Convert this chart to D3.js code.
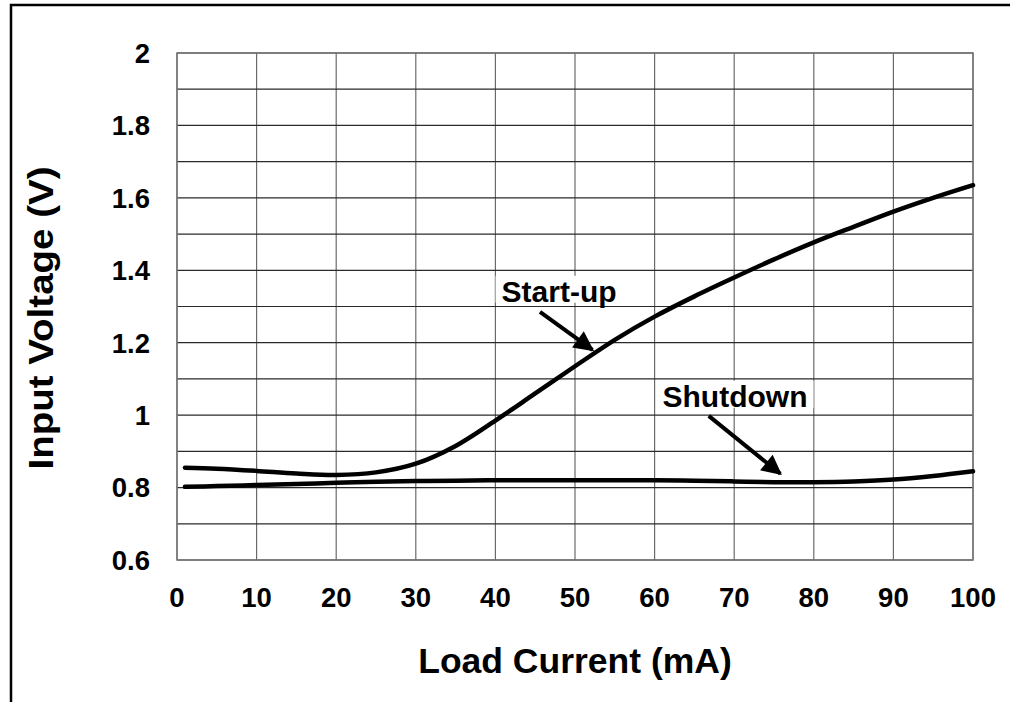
<!DOCTYPE html>
<html>
<head>
<meta charset="utf-8">
<script src="https://cdn.jsdelivr.net/npm/d3@7"></script>
<style>
  body { margin: 0; background: #fff; }
  text { font-family: "Liberation Sans", Arial, sans-serif; font-weight: bold; fill: #000; }
</style>
</head>
<body>
<svg width="1010" height="702"></svg>
<script>
// data
const loadCurrent = [1, 5, 10, 15, 20, 25, 30, 35, 40, 45, 50, 55, 60, 65, 70, 75, 80, 85, 90, 95, 100];
const startUp = [0.855, 0.852, 0.846, 0.839, 0.835, 0.842, 0.866, 0.915, 0.985, 1.06, 1.135, 1.208, 1.272, 1.328, 1.38, 1.43, 1.477, 1.52, 1.562, 1.6, 1.635];
const shutdown = [0.802, 0.804, 0.807, 0.81, 0.813, 0.816, 0.818, 0.819, 0.82, 0.82, 0.82, 0.82, 0.82, 0.819, 0.817, 0.815, 0.815, 0.817, 0.822, 0.832, 0.845];
const xTicks = [0, 10, 20, 30, 40, 50, 60, 70, 80, 90, 100];
const yTicks = [0.6, 0.8, 1, 1.2, 1.4, 1.6, 1.8, 2];
const yGrid = d3.range(0.6, 2.001, 0.1);

// annotation labels and arrows, in data units
const labels = [
  { text: 'Start-up', x: 48.0, y: 1.313, arrow: [[45.6, 1.285], [52.2, 1.18]] },
  { text: 'Shutdown', x: 70.1, y: 1.023, arrow: [[66.8, 0.998], [75.8, 0.838]] }
];

const svg = d3.select('svg');
const margin = { left: 177, top: 53, right: 37, bottom: 142 };
const width = +svg.attr('width');
const height = +svg.attr('height');

// outer frame
svg.append('rect')
  .attr('x', 11).attr('y', 5)
  .attr('width', 1010).attr('height', 702)
  .attr('fill', 'none')
  .attr('stroke', '#000')
  .attr('stroke-width', 2.5);

const x = d3.scaleLinear().domain([0, 100]).range([margin.left, width - margin.right]);
const y = d3.scaleLinear().domain([0.6, 2]).range([height - margin.bottom, margin.top]);

// grid
svg.append('g')
  .selectAll('line')
  .data(xTicks)
  .join('line')
    .attr('x1', d => x(d)).attr('x2', d => x(d))
    .attr('y1', y(0.6)).attr('y2', y(2))
    .attr('stroke', '#6b6b6b')
    .attr('stroke-width', 1.2);

svg.append('g')
  .selectAll('line')
  .data(yGrid)
  .join('line')
    .attr('x1', x(0)).attr('x2', x(100))
    .attr('y1', d => y(d)).attr('y2', d => y(d))
    .attr('stroke', '#2a2a2a')
    .attr('stroke-width', 1.2);

svg.append('rect')
  .attr('x', x(0)).attr('y', y(2))
  .attr('width', x(100) - x(0)).attr('height', y(0.6) - y(2))
  .attr('fill', 'none')
  .attr('stroke', '#777')
  .attr('stroke-width', 1.5);

// tick labels
svg.append('g')
  .selectAll('text')
  .data(yTicks)
  .join('text')
    .attr('x', 150)
    .attr('y', d => y(d))
    .attr('dy', '0.36em')
    .attr('text-anchor', 'end')
    .attr('font-size', 27.5)
    .text(d => d3.format('')(+d.toFixed(1)));

svg.append('g')
  .selectAll('text')
  .data(xTicks)
  .join('text')
    .attr('x', d => x(d))
    .attr('y', 597)
    .attr('dy', '0.36em')
    .attr('text-anchor', 'middle')
    .attr('font-size', 27.5)
    .text(d => d);

// axis titles
svg.append('text')
  .attr('x', (x(0) + x(100)) / 2)
  .attr('y', 673)
  .attr('text-anchor', 'middle')
  .attr('font-size', 35.5)
  .text('Load Current (mA)');

svg.append('text')
  .attr('transform', `translate(53, 318) rotate(-90)`)
  .attr('text-anchor', 'middle')
  .attr('font-size', 35)
  .attr('textLength', 303)
  .attr('lengthAdjust', 'spacingAndGlyphs')
  .text('Input Voltage (V)');

// curves
const line = d3.line()
  .x((d, i) => x(loadCurrent[i]))
  .y(d => y(d))
  .curve(d3.curveCatmullRom);

[startUp, shutdown].forEach(s => {
  svg.append('path')
    .attr('d', line(s))
    .attr('fill', 'none')
    .attr('stroke', '#000')
    .attr('stroke-width', 4.5)
    .attr('stroke-linecap', 'round');
});

// arrow marker
svg.append('defs').append('marker')
  .attr('id', 'head')
  .attr('viewBox', '0 0 10 10')
  .attr('refX', 9).attr('refY', 5)
  .attr('markerWidth', 5.5).attr('markerHeight', 5)
  .attr('markerUnits', 'strokeWidth')
  .attr('orient', 'auto')
  .append('path')
    .attr('d', 'M0,0 L10,5 L0,10 Z')
    .attr('fill', '#000');

const ann = svg.append('g');
labels.forEach(l => {
  const t = ann.append('text')
    .attr('x', x(l.x))
    .attr('y', y(l.y))
    .attr('text-anchor', 'middle')
    .attr('font-size', 30)
    .text(l.text);
  const bb = t.node().getBBox();
  ann.insert('rect', 'text')
    .attr('x', bb.x - 6).attr('y', bb.y + 1)
    .attr('width', bb.width + 12).attr('height', bb.height - 6)
    .attr('fill', '#fff');
  ann.append('line')
    .attr('x1', x(l.arrow[0][0])).attr('y1', y(l.arrow[0][1]))
    .attr('x2', x(l.arrow[1][0])).attr('y2', y(l.arrow[1][1]))
    .attr('stroke', '#000')
    .attr('stroke-width', 4)
    .attr('marker-end', 'url(#head)');
});
</script>
</body>
</html>
